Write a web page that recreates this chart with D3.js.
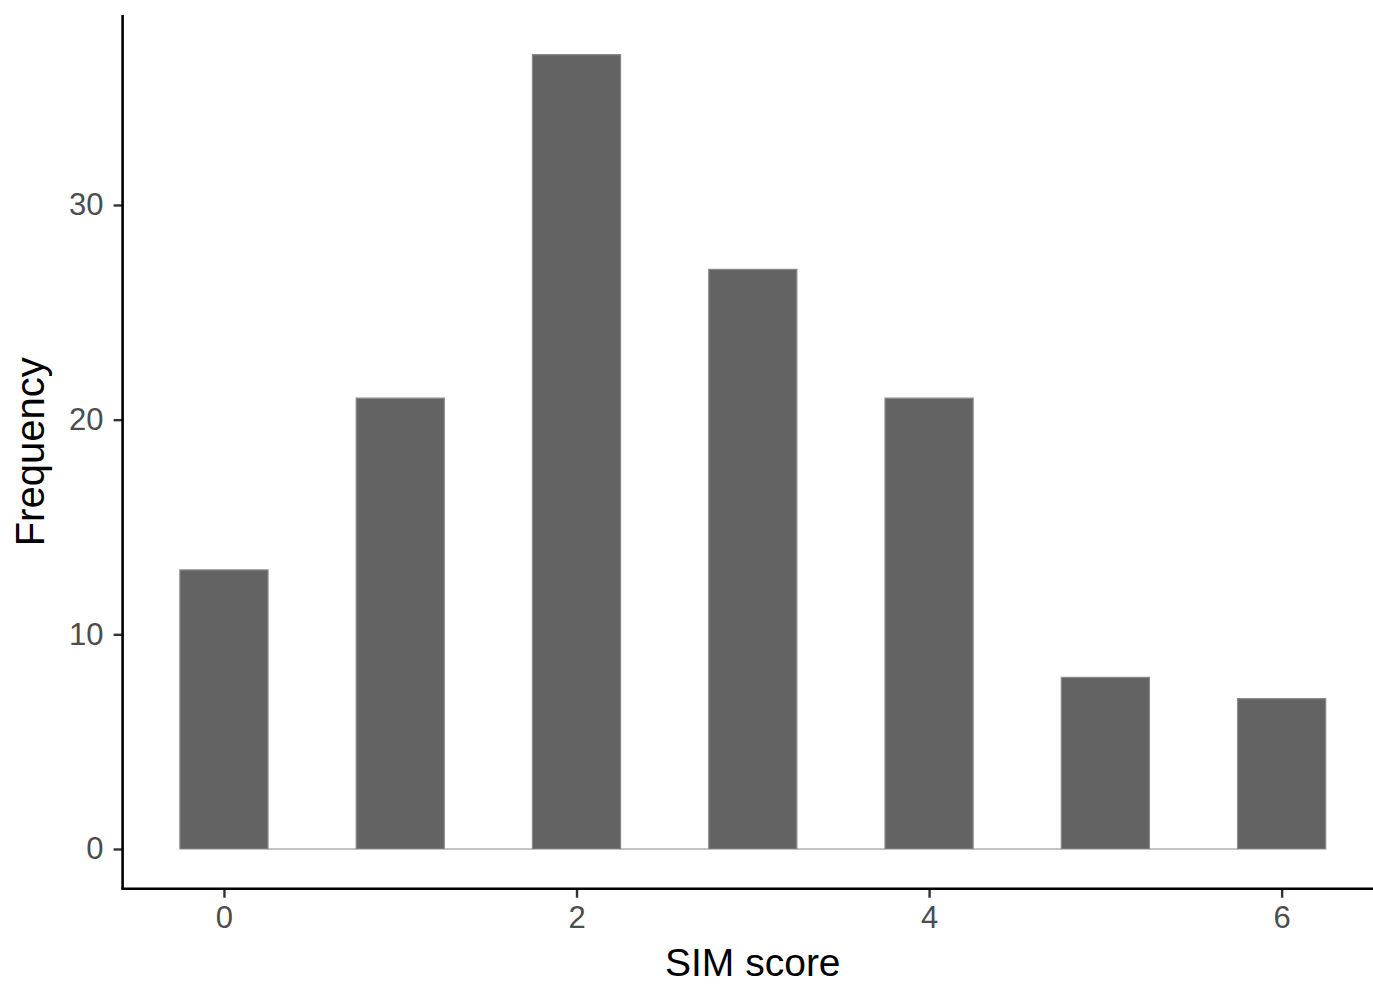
<!DOCTYPE html>
<html>
<head>
<meta charset="utf-8">
<script src="https://cdn.jsdelivr.net/npm/d3@7"></script>
<style>
  html, body { margin: 0; padding: 0; background: #fff; }
  svg { display: block; font-family: "Liberation Sans", Arial, sans-serif; }
</style>
</head>
<body>
<div id="chart"></div>
<script>
const width = 1373;
const height = 984;

// histogram bins (binwidth 0.5), centre and count
const binCentres = [0, 0.5, 1, 1.5, 2, 2.5, 3, 3.5, 4, 4.5, 5, 5.5, 6];
const binCounts = [13, 0, 21, 0, 37, 0, 27, 0, 21, 0, 8, 0, 7];
const binWidth = 0.5;
const xTicks = [0, 2, 4, 6];
const yTicks = [0, 10, 20, 30];

const panel = { left: 122.6, right: 1383, top: 15, bottom: 888.7 };

const xMin = d3.min(binCentres) - binWidth / 2;
const xMax = d3.max(binCentres) + binWidth / 2;
const xPad = (xMax - xMin) * 0.05;
const yMax = d3.max(binCounts);
const yPad = yMax * 0.05;

const x = d3.scaleLinear().domain([xMin - xPad, xMax + xPad]).range([panel.left, panel.right]);
const y = d3.scaleLinear().domain([-yPad, yMax + yPad]).range([panel.bottom, panel.top]);

const svg = d3.select("#chart").append("svg").attr("width", width).attr("height", height);

// bars as closed paths so empty bins still show their outline
svg.append("g")
  .selectAll("path")
  .data(binCentres.map((c, i) => ({ c, n: binCounts[i] })))
  .join("path")
  .attr("d", (d) => {
    const x0 = x(d.c - binWidth / 2), x1 = x(d.c + binWidth / 2);
    const y0 = y(0), y1 = y(d.n);
    return `M${x0},${y0}H${x1}V${y1}H${x0}Z`;
  })
  .attr("fill", "#636363")
  .attr("stroke", "#8a8a8a")
  .attr("stroke-width", 1.2);

// y axis
const yAxis = svg.append("g")
  .attr("transform", `translate(${panel.left},0)`)
  .call(d3.axisLeft(y).tickValues(yTicks).tickSize(9).tickPadding(10));
yAxis.select(".domain").remove();
yAxis.selectAll(".tick line").attr("stroke", "#333").attr("stroke-width", 2.4);
yAxis.selectAll(".tick text").attr("fill", "#4d4d4d").style("font-size", "31px").attr("font-family", null);

// x axis
const xAxis = svg.append("g")
  .attr("transform", `translate(0,${panel.bottom})`)
  .call(d3.axisBottom(x).tickValues(xTicks).tickSize(9).tickPadding(8));
xAxis.select(".domain").remove();
xAxis.selectAll(".tick line").attr("stroke", "#333").attr("stroke-width", 2.4);
xAxis.selectAll(".tick text").attr("fill", "#4d4d4d").style("font-size", "31px").attr("font-family", null);

// axis lines
svg.append("line")
  .attr("x1", panel.left).attr("x2", panel.left)
  .attr("y1", panel.top).attr("y2", panel.bottom)
  .attr("stroke", "#000").attr("stroke-width", 2.6);
svg.append("line")
  .attr("x1", panel.left - 1.3).attr("x2", panel.right)
  .attr("y1", panel.bottom).attr("y2", panel.bottom)
  .attr("stroke", "#000").attr("stroke-width", 2.6);

// titles
svg.append("text")
  .attr("x", (panel.left + panel.right) / 2)
  .attr("y", 976)
  .attr("text-anchor", "middle")
  .style("font-size", "39px")
  .text("SIM score");

svg.append("text")
  .attr("transform", `translate(44,${(panel.top + panel.bottom) / 2}) rotate(-90)`)
  .attr("text-anchor", "middle")
  .style("font-size", "40px")
  .text("Frequency");
</script>
</body>
</html>
